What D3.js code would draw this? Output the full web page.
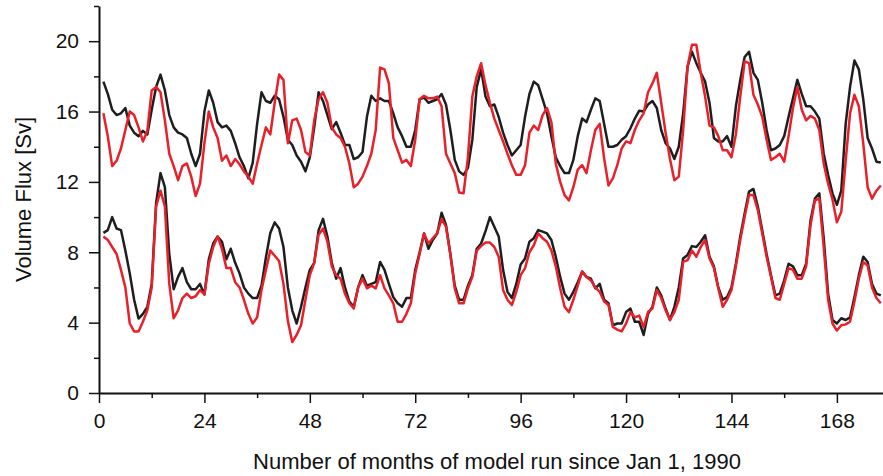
<!DOCTYPE html>
<html>
<head>
<meta charset="utf-8">
<script src="https://cdn.jsdelivr.net/npm/d3@7"></script>
<style>
  body { margin: 0; background: #fff; }
  text { font-family: "Liberation Sans", Arial, sans-serif; }
</style>
</head>
<body>
<div id="container"></div>
<script>
// Monthly volume flux, months 1..178 of the model run
const upperBlack = [
  17.7, 17.0, 16.1, 15.8, 15.9, 16.2, 15.2, 14.8, 14.6, 14.9, 14.7, 16.1,
  17.4, 18.1, 17.2, 15.8, 15.1, 14.8, 14.7, 14.5, 13.6, 12.9, 13.6, 16.0,
  17.2, 16.5, 15.4, 15.1, 15.2, 14.9, 14.2, 13.4, 12.9, 12.2, 13.1, 15.3,
  17.1, 16.6, 16.5, 16.9, 16.7, 15.7, 14.4, 14.1, 13.5, 13.15, 12.6, 13.4,
  15.1, 17.1, 16.6, 15.8, 15.0, 15.4, 14.8, 14.1, 14.1, 13.3, 13.4, 13.7,
  15.7, 16.9, 16.6, 16.75, 16.6, 16.6, 15.9, 15.1, 14.6, 14.0, 14.0, 14.95,
  16.7, 16.8, 16.5, 16.6, 16.7, 17.0, 16.4, 14.95, 13.25, 12.6, 12.4, 12.8,
  14.4, 17.4, 18.4, 16.85, 16.3, 16.4, 15.7, 14.8, 14.1, 13.5, 13.8, 14.1,
  15.7, 17.0, 17.7, 17.5, 16.7, 15.9, 14.6, 13.4, 12.9, 12.5, 12.5, 13.25,
  14.6, 15.6, 15.4, 16.1, 16.75, 16.6, 15.3, 14.0, 14.0, 14.1, 14.4, 14.6,
  15.05, 15.6, 16.05, 16.0, 16.4, 16.6, 16.2, 14.95, 14.2, 13.9, 13.3, 14.0,
  15.9, 18.55, 19.4, 18.75, 18.2, 17.7, 16.5, 14.5, 14.3, 14.3, 14.6, 14.0,
  16.3, 17.8, 19.1, 19.4, 18.2, 17.8, 16.5, 14.95, 13.8, 13.9, 14.1, 14.6,
  15.7, 16.75, 17.8, 17.0, 16.3, 16.3, 16.0, 15.6, 13.6, 12.4, 11.35, 10.7,
  11.5, 15.3, 17.4, 18.9, 18.4, 16.7, 14.5, 13.9, 13.15, 13.1
];
const upperRed = [
  15.9, 14.6, 12.9, 13.2, 13.9, 14.95, 16.0, 15.8, 15.1, 14.3, 14.9, 17.2,
  17.4, 17.1, 15.5, 13.6, 12.9, 12.1, 12.9, 13.05, 12.3, 11.2, 11.9, 14.2,
  16.0, 15.1, 14.5, 13.2, 13.5, 12.9, 13.3, 13.0, 12.6, 12.3, 11.9, 13.05,
  14.1, 15.1, 14.7, 16.5, 18.1, 17.8, 14.2, 15.5, 15.6, 14.95, 13.7, 13.5,
  15.5, 16.7, 17.1, 16.5, 15.1, 14.7, 14.5, 14.0, 13.05, 11.7, 11.9, 12.3,
  12.9, 13.6, 14.95, 18.5, 18.4, 17.6, 14.5, 13.8, 13.1, 13.25, 12.9, 14.4,
  16.7, 16.9, 16.75, 16.75, 16.85, 16.3, 13.6, 13.05, 12.5, 11.4, 11.35, 13.4,
  16.85, 18.0, 18.75, 17.5, 16.5, 15.6, 14.95, 14.3, 13.6, 12.95, 12.4, 12.4,
  12.95, 14.8, 15.2, 14.95, 15.8, 16.2, 15.4, 13.05, 12.0, 11.25, 10.95, 11.7,
  12.7, 12.95, 12.5, 13.8, 14.95, 15.3, 13.35, 11.8, 12.2, 12.95, 13.9, 14.3,
  14.2, 14.95, 15.5, 15.9, 17.1, 17.6, 18.2, 16.5, 14.8, 13.3, 12.1, 12.3,
  14.95, 18.55, 19.8, 19.8, 18.2, 16.85, 15.2, 15.1, 14.6, 13.8, 13.8, 13.4,
  14.7, 16.85, 18.85, 18.75, 16.95, 16.4, 15.7, 14.4, 13.25, 13.4, 13.6, 13.15,
  14.6, 16.2, 17.4, 16.1, 15.5, 15.75, 15.6, 14.95, 13.05, 11.9, 11.0, 9.7,
  10.3, 13.2, 15.9, 16.95, 16.3, 14.2, 11.7, 11.05, 11.5, 11.8
];
const lowerBlack = [
  9.1, 9.26, 10.0, 9.35, 9.26, 8.1, 6.8, 5.3, 4.23, 4.5, 4.9, 6.2,
  10.8, 12.5, 11.7, 7.9, 5.9, 6.6, 7.1, 6.3, 5.9, 5.9, 6.2, 5.6,
  7.6, 8.5, 8.9, 8.6, 7.6, 8.2, 7.4, 6.8, 6.0, 5.65, 5.4, 5.4,
  6.1, 7.7, 9.1, 9.7, 9.35, 8.3, 6.0, 4.7, 3.95, 4.9, 6.0, 7.0,
  7.4, 9.26, 9.9, 8.9, 7.4, 6.5, 7.1, 6.0, 5.2, 4.9, 6.0, 6.7,
  6.1, 6.2, 6.3, 7.45, 7.0, 6.2, 5.45, 5.1, 4.9, 5.4, 5.4, 7.0,
  8.0, 9.07, 8.2, 8.7, 9.07, 10.25, 9.55, 7.9, 6.1, 5.3, 5.3, 6.1,
  6.7, 8.2, 8.5, 9.2, 10.0, 9.45, 8.9, 7.0, 5.75, 5.4, 6.2, 7.3,
  7.65, 8.6, 8.8, 9.26, 9.17, 9.07, 8.7, 7.75, 6.6, 5.65, 5.3, 5.75,
  6.3, 6.9, 6.6, 6.5, 5.95, 6.2, 5.3, 5.1, 3.85, 3.95, 3.95, 4.6,
  4.8, 4.05, 4.05, 3.3, 4.5, 4.9, 6.0, 5.55, 4.8, 4.15, 4.9, 6.0,
  7.65, 7.85, 8.35, 8.3, 8.6, 8.97, 7.75, 7.2, 6.0, 5.3, 5.45, 6.0,
  7.35, 8.9, 10.2, 11.45, 11.6, 10.6, 9.26, 7.9, 6.7, 5.55, 5.65, 6.4,
  7.35, 7.2, 6.7, 6.7, 7.35, 9.8, 11.05, 11.35, 8.8, 5.65, 4.15, 3.95,
  4.25, 4.15, 4.3, 5.45, 6.7, 7.75, 7.45, 6.2, 5.65, 5.55
];
const lowerRed = [
  8.9, 8.7, 8.3, 7.9, 7.0, 6.0, 3.95, 3.5, 3.5, 4.05, 4.7, 6.0,
  10.6, 11.5, 10.6, 6.2, 4.25, 4.7, 5.4, 5.65, 5.4, 5.5, 5.85, 5.6,
  7.35, 8.3, 8.9, 8.2, 7.1, 7.1, 6.3, 6.0, 5.3, 4.5, 3.95, 4.3,
  5.85, 7.0, 8.1, 7.8, 7.5, 6.2, 4.1, 2.9, 3.3, 3.85, 5.3, 6.7,
  7.4, 9.0, 9.35, 8.6, 7.2, 6.7, 6.5, 5.65, 5.1, 4.8, 6.0, 6.5,
  5.95, 6.1, 5.95, 6.7, 5.95, 5.55, 5.1, 4.05, 4.05, 4.5, 5.1, 6.8,
  7.9, 9.07, 8.5, 8.8, 9.07, 9.9, 9.45, 7.85, 5.95, 5.1, 5.1, 5.95,
  6.6, 8.1, 8.35, 8.55, 8.55, 8.3, 7.75, 5.85, 5.3, 5.0, 5.75, 6.7,
  7.1, 8.0, 8.4, 9.07, 8.8, 8.6, 8.1, 7.2, 5.95, 4.9, 4.6, 5.3,
  6.1, 6.9, 6.6, 6.4, 6.0, 5.75, 5.2, 5.0, 3.75, 3.6, 3.5, 3.95,
  4.6, 4.3, 4.4, 3.75, 4.6, 4.8, 5.85, 5.4, 4.7, 4.15, 4.6, 5.3,
  7.45, 7.55, 8.1, 7.75, 8.3, 8.7, 7.65, 7.1, 5.95, 4.9, 5.3, 5.85,
  7.2, 8.7, 10.0, 11.25, 11.25, 10.4, 9.07, 7.75, 6.6, 5.4, 5.3, 6.2,
  7.1, 7.0, 6.5, 6.5, 7.2, 9.55, 10.95, 11.05, 8.3, 5.3, 3.95, 3.55,
  3.85, 3.9, 4.05, 5.2, 6.5, 7.45, 7.25, 6.0, 5.4, 5.1
];
const firstMonth = 1;
const xTicks = [0, 24, 48, 72, 96, 120, 144, 168];
const xMinorTicks = [12, 36, 60, 84, 108, 132, 156];
const yTicks = [0, 4, 8, 12, 16, 20];
const yMinorTicks = [2, 6, 10, 14, 18, 22];

const width = 883;
const height = 476;
const margin = {left: 99, top: 6, right: 0, bottom: 83};

const scaleX = d3.scaleLinear()
    .domain([0, 178.5])
    .range([margin.left, width - margin.right]);
const scaleY = d3.scaleLinear()
    .domain([0, 22])
    .range([height - margin.bottom, margin.top]);

const svg = d3.select("#container")
    .append("svg")
    .attr("width", width)
    .attr("height", height);

const line = d3.line()
    .x((d, i) => scaleX(firstMonth + i))
    .y(d => scaleY(d));

// black first, red on top
const series = [
    {values: upperBlack, color: "#1e1e1e"},
    {values: lowerBlack, color: "#1e1e1e"},
    {values: upperRed, color: "#e8202a"},
    {values: lowerRed, color: "#e8202a"}
];
for (const s of series) {
    svg.append("path")
        .datum(s.values)
        .attr("fill", "none")
        .attr("stroke", s.color)
        .attr("stroke-width", 2.5)
        .attr("stroke-linejoin", "round")
        .attr("d", line);
}

// x axis
svg.append("g")
    .attr("transform", "translate(0," + scaleY(0) + ")")
    .call(d3.axisBottom(scaleX).tickValues(xTicks).tickSize(10).tickSizeOuter(0).tickPadding(10));
svg.append("g")
    .attr("transform", "translate(0," + scaleY(0) + ")")
    .call(d3.axisBottom(scaleX).tickValues(xMinorTicks).tickSize(5).tickFormat(""))
    .call(g => g.select(".domain").remove());

// y axis
svg.append("g")
    .attr("transform", "translate(" + scaleX(0) + ",0)")
    .call(d3.axisLeft(scaleY).tickValues(yTicks).tickSize(10).tickSizeOuter(0).tickPadding(10));
svg.append("g")
    .attr("transform", "translate(" + scaleX(0) + ",0)")
    .call(d3.axisLeft(scaleY).tickValues(yMinorTicks).tickSize(5).tickFormat(""))
    .call(g => g.select(".domain").remove());

svg.selectAll(".domain").attr("stroke", "#111").attr("stroke-width", 2);
svg.selectAll(".tick line").attr("stroke", "#111").attr("stroke-width", 1.5);
svg.selectAll(".tick text")
    .attr("fill", "#111")
    .style("font-size", "21px")
    .style("font-family", "'Liberation Sans', Arial, sans-serif");

svg.append("text")
    .attr("x", 497)
    .attr("y", 469)
    .attr("text-anchor", "middle")
    .attr("fill", "#111")
    .style("font-size", "22px")
    .text("Number of months of model run since Jan 1, 1990");

svg.append("text")
    .attr("transform", "translate(31," + scaleY(11) + ") rotate(-90)")
    .attr("text-anchor", "middle")
    .attr("fill", "#111")
    .style("font-size", "22px")
    .text("Volume Flux [Sv]");
</script>
</body>
</html>
